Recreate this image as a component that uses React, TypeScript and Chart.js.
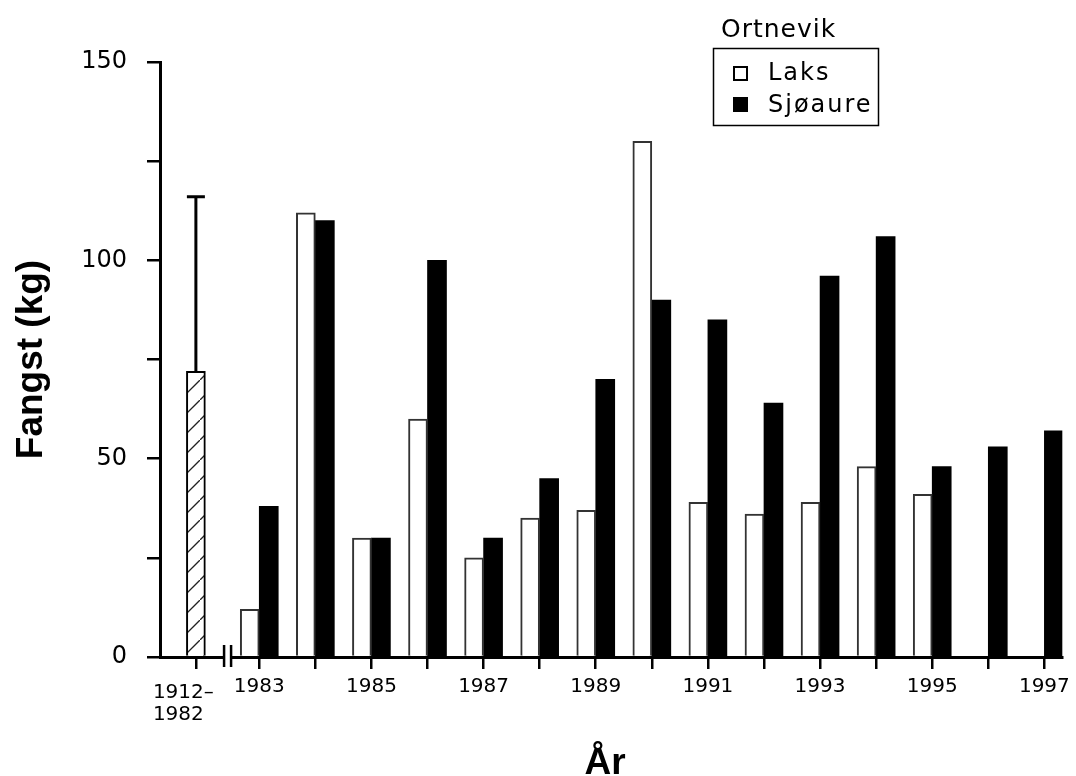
import React, { useEffect, useRef } from 'react';
import { Chart, registerables } from 'chart.js';

Chart.register(...registerables);

// ---- data ----
const years = [1983, 1984, 1985, 1986, 1987, 1988, 1989, 1990, 1991, 1992, 1993, 1994, 1995, 1996, 1997];
const laks = [12, 112, 30, 60, 25, 35, 37, 130, 39, 36, 39, 48, 41, null, null];
const sjoaure = [38, 110, 30, 100, 30, 45, 70, 90, 85, 64, 96, 106, 48, 53, 57];
const historicPos = 1981.87; // position of the 1912–1982 bar on the broken axis
const historicLabel = ['1912–', '1982'];
const historicMean = [72];
const historicUpper = [116];
const seriesNames = ['Laks', 'Sjøaure'];
const legendTitle = 'Ortnevik';
const yTickValues = [0, 25, 50, 75, 100, 125, 150];
const yLabelEvery = 50;
const xLabelledYears = [1983, 1985, 1987, 1989, 1991, 1993, 1995, 1997];
const xTitle = 'År';
const yTitle = 'Fangst (kg)';

const W = 1076;
const H = 776;

function makeHatch(): CanvasPattern | string {
  const c = document.createElement('canvas');
  c.width = 20;
  c.height = 20;
  const g = c.getContext('2d');
  if (!g) return '#fff';
  g.fillStyle = '#fff';
  g.fillRect(0, 0, 20, 20);
  g.strokeStyle = '#222';
  g.lineWidth = 1.3;
  g.beginPath();
  g.moveTo(-2, 22);
  g.lineTo(22, -2);
  g.stroke();
  const p = g.createPattern(c, 'repeat');
  return p || '#fff';
}

const extrasPlugin = {
  id: 'extras',
  afterDatasetsDraw(chart: any) {
    const ctx = chart.ctx as CanvasRenderingContext2D;
    const ys = chart.scales.y;
    // error bar on historic mean
    const meta = chart.getDatasetMeta(0);
    meta.data.forEach((el: any, i: number) => {
      const x = el.x;
      const yTop = ys.getPixelForValue(historicUpper[i]);
      const yMean = ys.getPixelForValue(historicMean[i]);
      ctx.save();
      ctx.strokeStyle = '#000';
      ctx.lineWidth = 3;
      ctx.beginPath();
      ctx.moveTo(x, yMean);
      ctx.lineTo(x, yTop);
      ctx.moveTo(x - 9, yTop);
      ctx.lineTo(x + 9, yTop);
      ctx.stroke();
      ctx.restore();
    });
  },
  afterDraw(chart: any) {
    const ctx = chart.ctx as CanvasRenderingContext2D;
    const xs = chart.scales.x;
    const area = chart.chartArea;
    const axisY = area.bottom;

    // axis break marks
    const pb = xs.getPixelForValue((historicPos + years[0]) / 2);
    ctx.save();
    ctx.fillStyle = '#fff';
    ctx.fillRect(pb - 3, axisY - 3, 6, 6);
    ctx.strokeStyle = '#000';
    ctx.lineWidth = 2.5;
    ctx.beginPath();
    ctx.moveTo(pb - 3.5, axisY - 12);
    ctx.lineTo(pb - 3.5, axisY + 10);
    ctx.moveTo(pb + 3.5, axisY - 12);
    ctx.lineTo(pb + 3.5, axisY + 10);
    ctx.stroke();
    ctx.restore();

    // historic period label (left aligned, two lines)
    const hx = xs.getPixelForValue(historicPos);
    ctx.save();
    ctx.fillStyle = '#000';
    ctx.font = '20px "DejaVu Sans"';
    ctx.textAlign = 'left';
    ctx.textBaseline = 'alphabetic';
    ctx.fillText(historicLabel[0], hx - 43, axisY + 41);
    ctx.fillText(historicLabel[1], hx - 43, axisY + 63);
    ctx.restore();

    // axis titles
    ctx.save();
    ctx.fillStyle = '#000';
    ctx.font = 'bold 37px "Liberation Sans"';
    ctx.textAlign = 'center';
    ctx.textBaseline = 'alphabetic';
    ctx.translate(42, (area.top + area.bottom) / 2);
    ctx.rotate(-Math.PI / 2);
    ctx.fillText(yTitle, 0, 0);
    ctx.restore();

    ctx.save();
    ctx.fillStyle = '#000';
    ctx.font = 'bold 37px "Liberation Sans"';
    ctx.textAlign = 'center';
    ctx.textBaseline = 'alphabetic';
    ctx.fillText(xTitle, (area.left + area.right) / 2 - 6, 774);
    ctx.restore();

    // legend
    ctx.save();
    (ctx as any).letterSpacing = '1px';
    ctx.fillStyle = '#000';
    ctx.font = '25px "DejaVu Sans"';
    ctx.textAlign = 'left';
    ctx.textBaseline = 'alphabetic';
    ctx.fillText(legendTitle, 721, 37);
    ctx.strokeStyle = '#000';
    ctx.lineWidth = 1.5;
    ctx.strokeRect(713.5, 48.5, 165, 77);
    (ctx as any).letterSpacing = '2px';
    ctx.font = '24px "DejaVu Sans"';
    // Laks
    ctx.lineWidth = 2;
    ctx.strokeRect(734, 67, 13, 13);
    ctx.fillText(seriesNames[0], 768, 80);
    // Sjøaure
    ctx.fillRect(733, 97, 15, 15);
    ctx.fillText(seriesNames[1], 768, 112);
    ctx.restore();
  },
};

export default function App() {
  const ref = useRef<HTMLCanvasElement | null>(null);

  useEffect(() => {
    document.body.style.margin = '0';
    document.body.style.background = '#fff';
    const canvas = ref.current;
    if (!canvas) return;
    const hatch = makeHatch();

    const chart = new Chart(canvas, {
      type: 'bar',
      data: {
        datasets: [
          {
            label: '1912–1982',
            data: historicMean.map((y) => ({ x: historicPos, y })),
            backgroundColor: hatch as any,
            borderColor: '#000',
            borderWidth: 2,
            barThickness: 19,
            grouped: false,
          } as any,
          {
            label: seriesNames[0],
            data: years.map((x, i) => ({ x, y: laks[i] })),
            backgroundColor: '#fff',
            borderColor: '#333',
            borderWidth: 2,
            barThickness: 19,
          },
          {
            label: seriesNames[1],
            data: years.map((x, i) => ({ x, y: sjoaure[i] })),
            backgroundColor: '#000',
            borderColor: '#000',
            borderWidth: 0,
            barThickness: 19,
          },
        ],
      },
      options: {
        responsive: false,
        animation: false,
        devicePixelRatio: 1,
        layout: { padding: { top: 62, right: 9, left: 0, bottom: 0 } },
        plugins: {
          legend: { display: false },
          tooltip: { enabled: false },
        },
        scales: {
          x: {
            type: 'linear',
            min: 1981.23,
            max: 1997.32,
            offset: false,
            afterFit(scale: any) {
              scale.height = 119;
            },
            afterBuildTicks(scale: any) {
              scale.ticks = [historicPos, ...years].map((v) => ({ value: v }));
            },
            ticks: {
              autoSkip: false,
              maxRotation: 0,
              minRotation: 0,
              padding: 6,
              color: '#000',
              font: { family: '"DejaVu Sans"', size: 20 },
              callback: (v: any) => (xLabelledYears.includes(Number(v)) ? String(v) : ''),
            },
            grid: {
              display: true,
              offset: false,
              drawOnChartArea: false,
              drawTicks: true,
              tickLength: 12,
              lineWidth: 2.5,
              color: '#000',
            },
            border: { display: true, color: '#000', width: 3 },
          } as any,
          y: {
            type: 'linear',
            min: 0,
            max: 150,
            afterFit(scale: any) {
              scale.width = 160;
            },
            afterBuildTicks(scale: any) {
              scale.ticks = yTickValues.map((v) => ({ value: v }));
            },
            ticks: {
              padding: 20,
              color: '#000',
              font: { family: '"DejaVu Sans"', size: 24 },
              callback: (v: any) => (Number(v) % yLabelEvery === 0 ? String(v) : ''),
            },
            grid: {
              display: true,
              drawOnChartArea: false,
              drawTicks: true,
              tickLength: 13,
              lineWidth: 2.5,
              color: '#000',
            },
            border: { display: true, color: '#000', width: 3 },
          } as any,
        },
      },
      plugins: [extrasPlugin],
    });

    return () => {
      chart.destroy();
    };
  }, []);

  return (
    <div style={{ width: W, height: H, overflow: 'hidden', background: '#fff' }}>
      <canvas ref={ref} width={W} height={H} style={{ display: 'block' }} />
    </div>
  );
}
